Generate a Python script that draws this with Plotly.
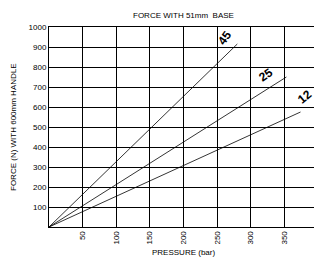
import plotly.graph_objects as go

pressure_end = {"45": 280, "25": 353, "12": 374}
force_end = {"45": 915, "25": 750, "12": 575}
series = ["45", "25", "12"]
x_ticks = [50, 100, 150, 200, 250, 300, 350, 400]
y_ticks = [100, 200, 300, 400, 500, 600, 700, 800, 900, 1000]
label_pos = {"45": (261, 945, -55), "25": (322, 760, -35), "12": (380, 650, -40)}

fig = go.Figure()
for s in series:
    fig.add_trace(go.Scatter(x=[0, pressure_end[s]], y=[0, force_end[s]], mode="lines",
                             line=dict(color="black", width=0.8), showlegend=False))
    lx, ly, ang = label_pos[s]
    fig.add_annotation(x=lx, y=ly, text="<b>" + s + "</b>", showarrow=False, textangle=ang,
                       font=dict(size=12, color="black", family="Liberation Sans"))

# page body has an 8px default margin, so the figure is sized/offset to compensate
fig.update_layout(
    width=314, height=254,
    margin=dict(l=41, r=4, t=19, b=35, autoexpand=False),
    paper_bgcolor="white", plot_bgcolor="white",
    font=dict(family="Liberation Sans", size=8, color="black"),
    xaxis=dict(range=[0, 400], tickvals=x_ticks, ticktext=[str(v) for v in x_ticks],
               tickangle=-90, showgrid=True, gridcolor="black", gridwidth=1,
               showline=True, linecolor="black", linewidth=1, mirror=True, automargin=False,
               ticklabeloverflow="allow",
               zeroline=False, ticks="", ticklen=0, fixedrange=True),
    yaxis=dict(range=[0, 1000], tickvals=y_ticks, ticktext=[str(v) for v in y_ticks],
               showgrid=True, gridcolor="black", gridwidth=1, automargin=False,
               showline=True, linecolor="black", linewidth=1, mirror=True,
               zeroline=False, ticks="", ticklen=0, fixedrange=True),
)
# the last tick label sits at the very edge of the figure, where plotly drops it
fig.add_annotation(text=str(x_ticks[-1]), xref="x", yref="paper", x=x_ticks[-1], y=0,
                   yanchor="top", yshift=-3, textangle=-90, showarrow=False,
                   font=dict(size=8))
fig.add_annotation(text="FORCE WITH 51mm  BASE", xref="paper", yref="paper", x=0.5, y=1.0,
                   yanchor="middle", yshift=12, showarrow=False, font=dict(size=8))
fig.add_annotation(text="PRESSURE (bar)", xref="paper", yref="paper", x=0.5, y=0,
                   yanchor="middle", yshift=-25, showarrow=False, font=dict(size=8))
fig.add_annotation(text="FORCE (N) WITH 600mm HANDLE", xref="paper", yref="paper", x=0, y=0.5,
                   xanchor="center", xshift=-36, textangle=-90, showarrow=False, font=dict(size=8))

fig.write_html("out.html")
